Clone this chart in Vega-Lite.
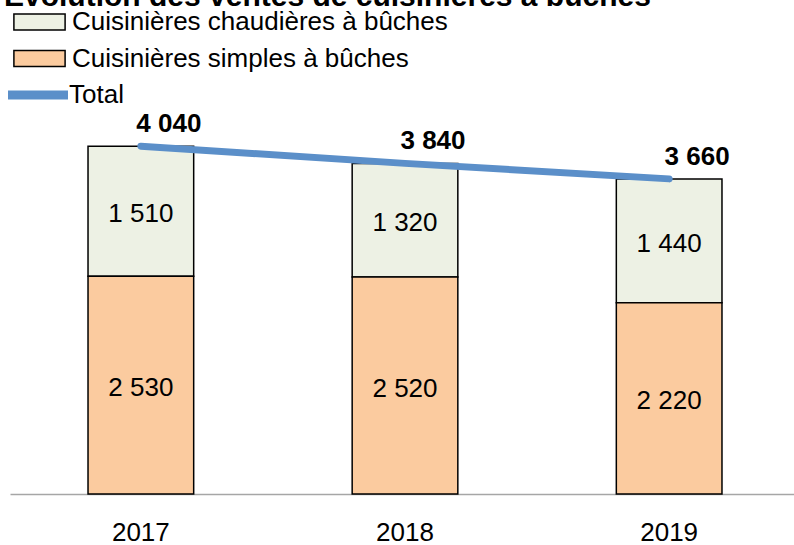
{
  "$schema": "https://vega.github.io/schema/vega-lite/v6.json",
  "width": 784,
  "height": 454,
  "autosize": {"type": "none"},
  "padding": {"left": 10, "top": 40, "right": 0, "bottom": 51},
  "title": {
    "text": "Évolution des ventes de cuisinières à bûches",
    "anchor": "start",
    "frame": "group",
    "orient": "top",
    "offset": 0,
    "dx": -6,
    "dy": 31,
    "baseline": "alphabetic",
    "font": "Liberation Sans",
    "fontSize": 30,
    "fontWeight": "bold",
    "color": "black"
  },
  "datasets": {
    "bars": [
      {"year": "2017", "type": "Cuisinières chaudières à bûches", "value": 1510},
      {"year": "2017", "type": "Cuisinières simples à bûches", "value": 2530},
      {"year": "2018", "type": "Cuisinières chaudières à bûches", "value": 1320},
      {"year": "2018", "type": "Cuisinières simples à bûches", "value": 2520},
      {"year": "2019", "type": "Cuisinières chaudières à bûches", "value": 1440},
      {"year": "2019", "type": "Cuisinières simples à bûches", "value": 2220}
    ],
    "totals": [
      {"year": "2017", "total": 4040},
      {"year": "2018", "total": 3840},
      {"year": "2019", "total": 3660}
    ]
  },
  "config": {
    "view": {"stroke": null},
    "font": "Liberation Sans",
    "locale": {"number": {"decimal": ",", "thousands": " ", "grouping": [3], "currency": ["", " €"]}},
    "axisX": {
      "labelFont": "Liberation Sans",
      "labelFontSize": 26,
      "labelColor": "black",
      "labelAngle": 0,
      "labelPadding": 25,
      "ticks": false,
      "grid": false,
      "domainColor": "#A6A6A6",
      "domainWidth": 1.5,
      "zindex": 1
    },
    "legend": {
      "labelFont": "Liberation Sans",
      "labelFontSize": 26,
      "labelColor": "black",
      "labelLimit": 1000,
      "padding": 0,
      "titlePadding": 0
    }
  },
  "layer": [
    {
      "data": {"name": "bars"},
      "mark": {"type": "bar", "stroke": "black", "strokeWidth": 1.5},
      "encoding": {
        "x": {
          "field": "year",
          "type": "nominal",
          "scale": {"paddingInner": 0.6, "paddingOuter": 0.284, "align": 0.52},
          "axis": {"title": null}
        },
        "y": {
          "field": "value",
          "type": "quantitative",
          "stack": "zero",
          "scale": {"domain": [0, 5273], "nice": false},
          "axis": null
        },
        "fill": {
          "field": "type",
          "type": "nominal",
          "scale": {
            "domain": ["Cuisinières chaudières à bûches", "Cuisinières simples à bûches"],
            "range": ["#EDF1E4", "#FBCB9F"]
          },
          "legend": {
            "title": null,
            "orient": "none",
            "legendX": 12.5,
            "legendY": -35,
            "direction": "vertical",
            "symbolType": "M-1.6,-0.5H1.6V0.5H-1.6Z",
            "symbolSize": 1024,
            "symbolStrokeColor": "black",
            "symbolStrokeWidth": 1.5,
            "labelOffset": 15.5,
            "rowPadding": 6.5
          }
        },
        "order": {"field": "type", "type": "nominal", "sort": "descending"}
      }
    },
    {
      "data": {"name": "totals"},
      "mark": {"type": "line", "strokeWidth": 7, "strokeCap": "round"},
      "encoding": {
        "x": {"field": "year", "type": "nominal", "axis": {"title": null}},
        "y": {"field": "total", "type": "quantitative", "axis": null},
        "stroke": {
          "datum": "Total",
          "type": "nominal",
          "scale": {"domain": ["Total"], "range": ["#5B8FC9"]},
          "legend": {
            "title": null,
            "orient": "none",
            "legendX": 7.5,
            "legendY": 34.5,
            "symbolType": "M-1.875,0H1.875",
            "symbolSize": 1024,
            "symbolStrokeWidth": 9,
            "labelOffset": 10.5
          }
        }
      }
    },
    {
      "data": {"name": "bars"},
      "transform": [
        {"stack": "value", "groupby": ["year"], "sort": [{"field": "type", "order": "descending"}], "as": ["v0", "v1"]},
        {"fold": ["v0", "v1"], "as": ["k", "pos"]},
        {"aggregate": [{"op": "mean", "field": "pos", "as": "mid"}], "groupby": ["year", "type", "value"]}
      ],
      "mark": {"type": "text", "font": "Liberation Sans", "fontSize": 26, "color": "black", "baseline": "middle", "align": "center", "dy": 3},
      "encoding": {
        "x": {"field": "year", "type": "nominal", "axis": {"title": null}},
        "y": {"field": "mid", "type": "quantitative", "axis": null},
        "text": {"field": "value", "type": "quantitative", "format": ",d"}
      }
    },
    {
      "data": {"name": "totals"},
      "mark": {"type": "text", "font": "Liberation Sans", "fontSize": 26, "fontWeight": "bold", "color": "black", "baseline": "middle", "align": "center", "dx": 28, "dy": -22},
      "encoding": {
        "x": {"field": "year", "type": "nominal", "axis": {"title": null}},
        "y": {"field": "total", "type": "quantitative", "axis": null},
        "text": {"field": "total", "type": "quantitative", "format": ",d"}
      }
    }
  ]
}
